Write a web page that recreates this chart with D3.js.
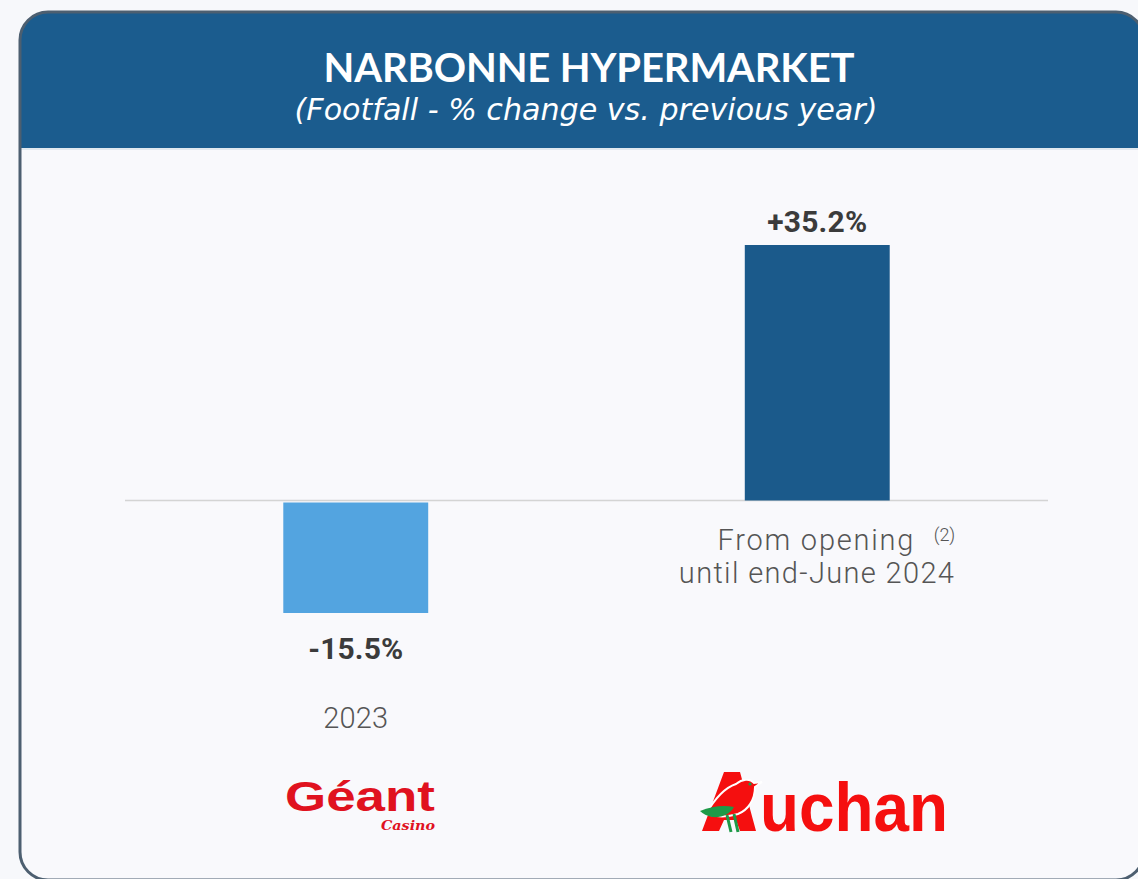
<!DOCTYPE html>
<html>
<head>
<meta charset="utf-8">
<script src="https://cdn.jsdelivr.net/npm/d3@7"></script>
<style>
  html, body { margin: 0; padding: 0; background: #f7f8fb; }
  svg { display: block; }
</style>
</head>
<body>
<svg id="chart" width="1138" height="879"></svg>
<script>
// ---- data ----
const title = "NARBONNE HYPERMARKET";
const subtitle = "(Footfall - % change vs. previous year)";
const categories = ["2023", "From opening"];
const values = [-15.5, 35.2];
const valueLabels = ["-15.5%", "+35.2%"];
const barColors = ["#53a4e0", "#1b5a8b"];
const brands = ["Géant", "Auchan"];

const W = 1138, H = 879;
const svg = d3.select("#chart");
const SANS = "'Lato', 'Noto Sans', sans-serif";
const WIDE = "'DejaVu Sans', 'Noto Sans', sans-serif";
const ROBO = "'Roboto', 'Noto Sans', sans-serif";

// fit text to a target width by adjusting letter spacing
function fitWidth(sel, target) {
  sel.each(function () {
    const t = this.textContent.length;
    const w = this.getComputedTextLength();
    if (t > 1) d3.select(this).attr("letter-spacing", ((target - w) / (t - 1)).toFixed(2));
  });
  return sel;
}
// fit text to a target width by adjusting font size
function fitSize(sel, target) {
  sel.each(function () {
    const el = d3.select(this);
    const fs = parseFloat(el.attr("font-size"));
    const w = this.getComputedTextLength();
    el.attr("font-size", (fs * target / w).toFixed(2));
  });
  return sel;
}

// ---- card ----
const defs = svg.append("defs");
defs.append("clipPath").attr("id", "card")
  .append("rect").attr("x", 20).attr("y", 12).attr("width", 1124).attr("height", 868).attr("rx", 28);

svg.append("rect").attr("x", 20).attr("y", 12).attr("width", 1124).attr("height", 868).attr("rx", 28)
  .attr("fill", "#f9f9fc");

const card = svg.append("g").attr("clip-path", "url(#card)");
card.append("rect").attr("x", 0).attr("y", 0).attr("width", W + 20).attr("height", 148).attr("fill", "#1b5c8e");
card.append("line").attr("x1", 20).attr("x2", W).attr("y1", 149).attr("y2", 149)
  .attr("stroke", "#d9e3ec").attr("stroke-width", 1.5);

svg.append("rect").attr("x", 20).attr("y", 12).attr("width", 1124).attr("height", 868).attr("rx", 28)
  .attr("fill", "none").attr("stroke", "#4d5f70").attr("stroke-width", 3);

// ---- titles ----
svg.append("text").attr("x", 589).attr("y", 82).attr("text-anchor", "middle")
  .attr("fill", "#fff").attr("font-family", SANS).attr("font-weight", 700).attr("font-size", 40)
  .text(title).call(fitWidth, 531);

svg.append("text").attr("x", 586).attr("y", 120).attr("text-anchor", "middle")
  .attr("fill", "#fff").attr("font-family", WIDE).attr("font-style", "italic").attr("font-weight", 300)
  .attr("font-size", 27)
  .text(subtitle).call(fitSize, 583);

// ---- scales ----
const x = d3.scaleBand().domain(categories).range([125, 1048]).paddingInner(0.686).paddingOuter(0.343);
const y = d3.scaleLinear().domain([-15.5, 35.2]).range([613, 245]);

// zero axis
svg.append("line").attr("x1", x.range()[0]).attr("x2", x.range()[1])
  .attr("y1", y(0)).attr("y2", y(0)).attr("stroke", "#d4d4d4").attr("stroke-width", 1.5);

// bars
svg.selectAll("rect.bar").data(values).join("rect").attr("class", "bar")
  .attr("x", (d, i) => x(categories[i]))
  .attr("width", x.bandwidth())
  .attr("y", d => d >= 0 ? y(d) : y(0) + 2)
  .attr("height", d => d >= 0 ? y(0) - y(d) : y(d) - y(0) - 2)
  .attr("fill", (d, i) => barColors[i]);

// value labels
svg.selectAll("text.val").data(values).join("text").attr("class", "val")
  .attr("x", (d, i) => x(categories[i]) + x.bandwidth() / 2)
  .attr("y", d => d >= 0 ? y(d) - 13 : y(d) + 46)
  .attr("text-anchor", "middle").attr("fill", "#3b3b3b")
  .attr("font-family", ROBO).attr("font-weight", 700).attr("font-size", 30)
  .text((d, i) => valueLabels[i])
  .each(function (d, i) { fitWidth(d3.select(this), i === 0 ? 95 : 100); });

// category labels
const c0 = x(categories[0]) + x.bandwidth() / 2;
const c1 = x(categories[1]) + x.bandwidth() / 2;
const catStyle = s => s.attr("fill", "#555").attr("font-family", ROBO).attr("font-weight", 300).attr("font-size", 29);

svg.append("text").attr("x", c0).attr("y", 728).attr("text-anchor", "middle").call(catStyle)
  .text(categories[0]).call(fitWidth, 65);

svg.append("text").attr("x", c1 + 98).attr("y", 550).attr("text-anchor", "end").call(catStyle)
  .text(categories[1]).call(fitWidth, 196);
svg.append("text").attr("x", c1 + 138).attr("y", 541).attr("text-anchor", "end").call(catStyle)
  .attr("font-size", 18).text("(2)");
svg.append("text").attr("x", c1 + 138).attr("y", 583).attr("text-anchor", "end").call(catStyle)
  .text("until end-June 2024").call(fitWidth, 275);

// ---- logos ----
// Géant Casino
svg.append("text").attr("x", 285).attr("y", 811)
  .attr("fill", "#e0121f").attr("font-family", "'Liberation Sans', Arial, sans-serif")
  .attr("font-weight", 700).attr("font-size", 42)
  .attr("textLength", 150).attr("lengthAdjust", "spacingAndGlyphs").text(brands[0]);
svg.append("text").attr("x", 381).attr("y", 830)
  .attr("fill", "#e0121f").attr("font-family", "'DejaVu Serif', serif")
  .attr("font-style", "italic").attr("font-weight", 700).attr("font-size", 13)
  .attr("textLength", 54).attr("lengthAdjust", "spacingAndGlyphs").text("Casino");

// Auchan: stylised A with bird + "uchan"
const ax = 700, ay = 770;
const logo = svg.append("g").attr("transform", `translate(${ax},${ay})`);
// A shape
logo.append("path").attr("fill", "#f50f0f")
  .attr("d", "M2,61 L24,2 L40,2 L56,61 L40,61 L36,50 L24,50 L19,61 Z");
// bird body (red, white outline)
logo.append("path").attr("fill", "#f50f0f").attr("stroke", "#fff").attr("stroke-width", 2)
  .attr("d", "M6,44 C14,30 24,18 36,14 C42,9 50,8 54,13 L62,12 L55,17 C55,30 48,40 38,44 C28,47 16,47 6,44 Z");
// eye
logo.append("circle").attr("cx", 50).attr("cy", 14).attr("r", 1.6).attr("fill", "#1a9a4a");
// wing (green)
logo.append("path").attr("fill", "#1e9a48")
  .attr("d", "M0,41 C12,36 24,35 34,37 C30,44 22,48 12,47 C7,46 3,44 0,41 Z");
// legs
logo.append("path").attr("fill", "none").attr("stroke", "#1e9a48").attr("stroke-width", 3)
  .attr("d", "M27,45 L31,62 M34,44 L38,62");
// uchan
svg.append("text").attr("x", 760).attr("y", 831)
  .attr("fill", "#f50f0f").attr("font-family", "'Liberation Sans', Arial, sans-serif")
  .attr("font-weight", 700).attr("font-size", 68)
  .attr("textLength", 188).attr("lengthAdjust", "spacingAndGlyphs").text("uchan");
</script>
</body>
</html>
